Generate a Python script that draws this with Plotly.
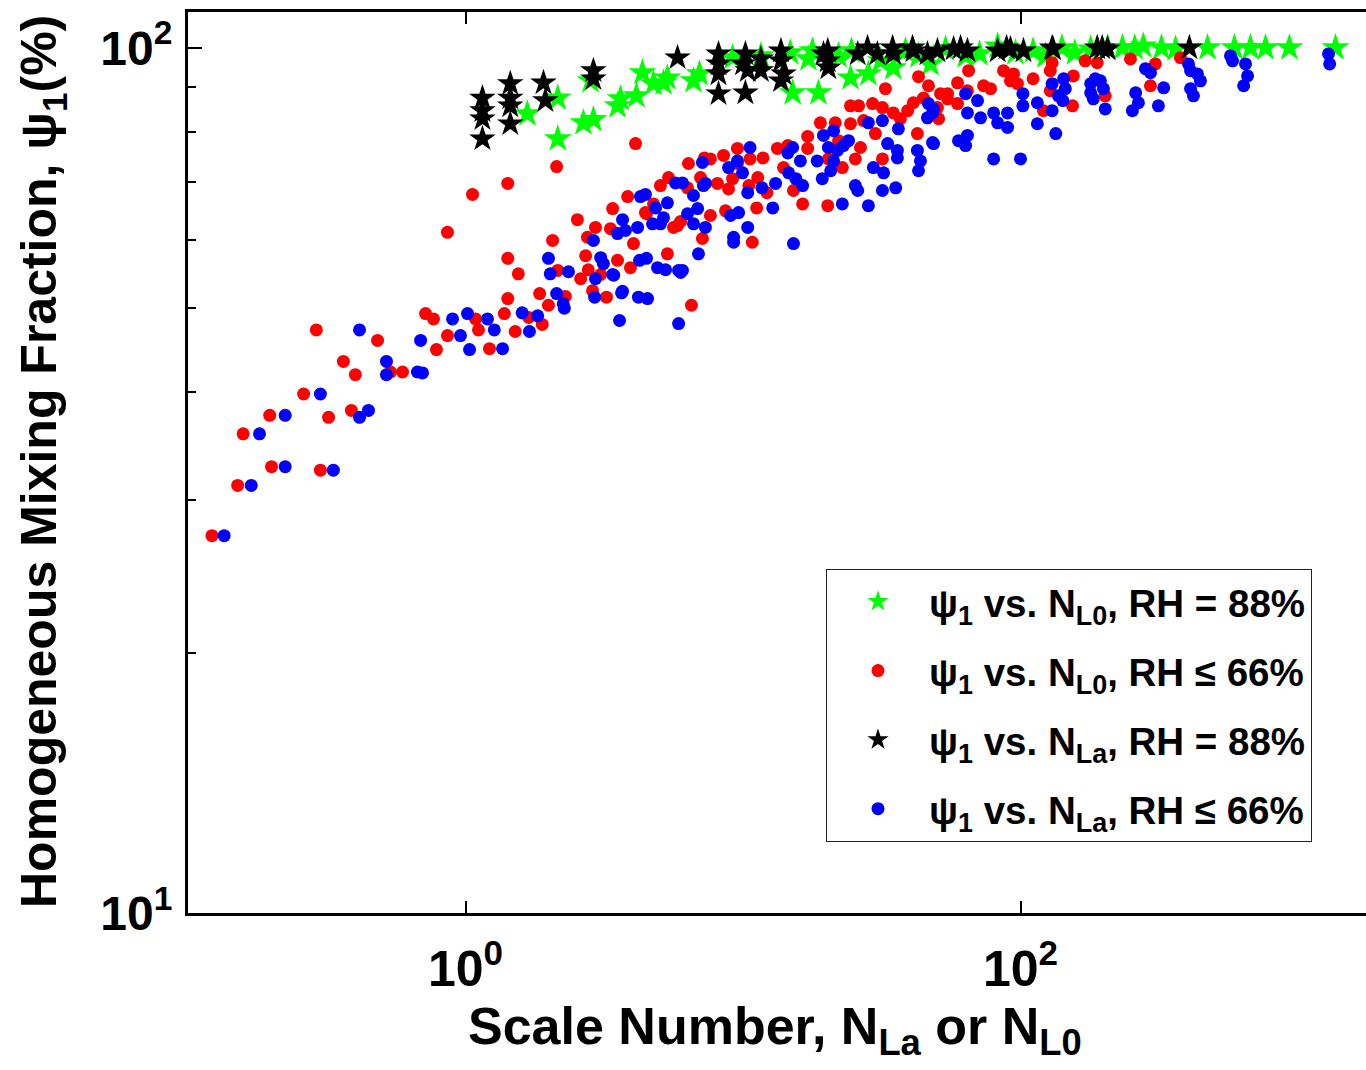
import plotly.graph_objects as go

# ---------------- data ----------------
green_x = [1.67, 2.15, 2.15, 2.66, 2.89, 2.82, 3.53, 3.62, 4.13, 4.34,
           4.76, 5.17, 5.34, 6.63, 6.97, 9.17, 11.6, 15.1, 17.2, 18.7,
           24.4, 28.3, 34.8, 47.4,
           14.8, 17.8, 22.1, 24.6, 31.3, 38.5, 42.9, 53.7, 63.4, 71.2,
           82.7, 95.9, 111, 123, 141, 157, 179, 206, 233, 258,
           277, 322, 362, 472, 590, 674, 764, 931, 1365]
green_y = [83.9, 78.5, 87.5, 81.9, 82.6, 91.6, 85.7, 87.3, 88.0, 93.6,
           90.9, 91.1, 92.3, 91.6, 93.3, 97.4, 97.9, 88.7, 97.1, 88.7,
           92.3, 93.3, 94.8, 95.8,
           98.7, 99.2, 97.9, 99.2, 96.6, 99.2, 97.9, 99.7, 97.9, 98.4,
           100.5, 98.7, 99.2, 97.9, 100, 98.7, 99.7, 100, 100, 100,
           100.5, 100, 99.7, 100, 100, 100, 100, 100, 100]

red_x = [0.122, 0.151, 0.158, 0.197, 0.200, 0.261, 0.290, 0.300, 0.321, 0.363,
         0.388, 0.401, 0.482, 0.537, 0.593, 0.718, 0.767, 0.786, 0.861, 0.861,
         1.06, 1.087, 1.114, 1.22, 1.38, 1.42, 1.42, 1.42, 1.51, 1.55,
         1.69, 1.85, 1.89, 1.99, 2.06, 2.15, 2.29, 2.53, 2.60, 2.71,
         2.75, 2.77, 2.87, 2.94, 3.22, 3.33, 3.39, 3.53, 3.84, 3.93,
         4.03, 4.45, 4.76, 5.04, 5.34, 5.62,
         4.10, 2.13, 3.07, 5.81, 5.39, 6.36, 7.26, 6.52, 7.14, 5.96, 4.49,
         7.63, 8.51, 9.55, 10.6, 11.8, 13.3, 14.5, 17.1, 19.0, 21.5,
         24.4, 26.1, 29.3, 31.8, 32.6, 42.9, 46.6, 44.7, 41.1, 39.2,
         34.8, 36.9, 50.7, 54.6, 59.3, 65.0, 64.4, 50.2, 24.4, 27.2,
         30.0, 42.5, 31.8, 26.5, 22.1, 20.3, 22.8, 25.4, 20.2, 16.4,
         15.2, 17.1, 14.0, 12.2, 11.3, 11.2, 10.5, 9.17, 8.87, 8.09,
         7.03, 6.31, 7.63, 10.8, 8.65, 9.55,
         51.5, 54.6, 59.3, 73.6, 78.0, 86.9, 94.4, 92.0, 97.5, 111,
         130, 128, 128, 155, 171, 189, 202, 154, 121, 306,
         294, 249, 377]
red_y = [27.3, 31.2, 35.8, 37.6, 32.8, 39.8, 47.2, 32.5, 37.4, 43.4,
         38.1, 41.9, 45.9, 42.2, 42.2, 49.3, 48.6, 44.8, 61.2, 46.5,
         67.7, 48.6, 47.2, 44.9, 49.3, 57.1, 51.3, 69.7, 47.0, 54.8,
         48.8, 52.0, 47.9, 50.4, 59.9, 55.3, 51.6, 63.3, 54.1, 57.5,
         60.4, 55.4, 52.4, 62.0, 51.5, 61.8, 65.2, 56.8, 67.3, 55.7,
         59.4, 64.5, 66.0, 69.3, 57.8, 62.0,
         77.5, 72.9, 54.7, 62.3, 70.8, 73.5, 74.6, 50.4, 60.2, 63.0, 64.3,
         74.4, 75.1, 76.5, 74.4, 74.6, 76.5, 77.1, 79.0, 81.9, 81.9,
         85.7, 85.7, 86.2, 85.3, 89.7, 92.6, 90.4, 87.5, 86.4, 84.6,
         84.1, 82.8, 82.8, 88.5, 91.1, 94.1, 89.2, 85.3, 81.7, 82.4,
         79.6, 79.6, 74.4, 76.7, 78.1, 74.4, 72.7, 74.4, 65.7, 66.0,
         68.4, 76.5, 72.7, 68.0, 70.8, 65.3, 69.3, 70.6, 68.7, 69.7,
         70.8, 68.9, 64.0, 59.6, 64.8, 73.5,
         88.5, 87.3, 86.2, 90.4, 89.7, 94.1, 93.3, 91.6, 90.9, 92.1,
         96.1, 94.1, 89.2, 92.8, 96.6, 96.1, 88.0, 85.7, 84.6, 95.8,
         90.4, 97.1, 97.4]

black_x = [1.151, 1.151, 1.151, 1.151, 1.45, 1.45, 1.45, 1.45, 1.91, 1.94,
           2.89, 2.89, 5.81, 8.16, 8.16, 8.16, 8.16, 10.2, 10.2, 10.0,
           10.4, 11.6, 11.6, 13.7, 13.7, 14.0, 13.7, 20.2, 20.2, 20.3,
           19.5, 25.9, 28.1, 30.5, 34.6, 34.8, 40.8, 41.1, 46.2, 50.2,
           57.4, 60.8, 64.4, 82.7, 89.1, 92.0, 102.5, 130, 131, 189,
           197, 206, 406]
black_y = [87.5, 84.6, 82.8, 78.5, 90.9, 87.5, 85.7, 81.7, 91.1, 86.9,
           94.1, 92.1, 97.4, 98.4, 95.8, 93.3, 88.5, 88.7, 98.4, 95.8,
           94.1, 97.1, 94.1, 99.2, 96.6, 93.3, 91.6, 99.2, 96.6, 94.8,
           98.4, 98.4, 100, 98.4, 100, 98.4, 100, 99.2, 98.4, 99.2,
           99.7, 100, 99.2, 99.2, 100, 99.7, 99.2, 100, 99.7, 100,
           100, 99.7, 100]

blue_x = [0.135, 0.169, 0.181, 0.224, 0.224, 0.300, 0.334, 0.415, 0.415, 0.447,
          0.519, 0.519, 0.671, 0.700, 0.689, 0.898, 0.959, 1.017, 1.034, 1.20,
          1.27, 1.36, 1.60, 1.70, 1.82, 1.99, 2.02, 2.13, 2.25, 2.27,
          2.35, 2.89, 2.94, 2.92, 3.07, 3.14, 3.42, 3.59, 3.65, 3.53,
          3.68, 3.77, 4.17, 4.24, 4.27, 4.45, 4.49, 4.20, 4.53, 4.72,
          4.84, 4.92, 5.04, 5.26, 5.34, 5.86, 5.86, 5.71,
          6.05, 7.14, 7.20, 6.63, 6.31, 6.86, 6.63, 7.32, 6.91, 5.17,
          5.96, 3.39, 3.68,
          10.6, 9.55, 8.87, 9.96, 7.32, 10.4, 11.7, 13.1, 12.8, 9.02,
          9.64, 10.4, 9.25, 9.25, 6.05, 15.2, 14.6, 14.5, 15.1, 16.1,
          15.5, 16.4, 18.5, 19.5, 21.2, 20.3, 21.9, 23.0, 24.0, 21.2,
          20.7, 19.3, 25.4, 25.9, 22.8, 28.3, 28.3, 31.8, 33.2, 36.0,
          36.0, 29.5, 32.1, 31.8, 35.5, 36.3, 46.6, 46.2, 48.2, 48.2,
          42.5, 43.6, 42.9, 59.8, 64.4, 63.4, 63.4, 70.0, 64.4,
          48.6, 48.6, 71.8, 80.0, 89.8, 82.7, 89.8, 80.0, 100, 102,
          102, 115, 115, 134, 130, 130, 137, 143, 145, 142,
          179, 186, 194, 199, 179, 183, 202, 253, 260, 266,
          314, 328, 282, 294, 403, 410, 434, 445, 410, 420,
          571, 581, 647, 658, 637, 1288, 1300]
blue_y = [27.3, 31.2, 35.8, 37.6, 32.8, 39.8, 32.5, 47.2, 37.4, 38.1,
          43.4, 41.9, 42.2, 42.1, 45.9, 48.6, 46.5, 49.3, 44.8, 48.6,
          47.2, 44.9, 49.4, 47.0, 49.0, 57.1, 54.8, 52.0, 50.6, 50.0,
          55.1, 59.9, 54.1, 51.5, 57.2, 56.3, 54.6, 48.4, 52.1, 61.0,
          63.3, 61.5, 62.0, 56.8, 67.3, 67.7, 57.1, 51.5, 51.3, 62.6,
          65.3, 55.7, 62.6, 55.4, 66.2, 55.3, 48.0, 69.8,
          69.8, 73.7, 69.3, 67.5, 64.3, 65.2, 62.6, 62.0, 57.8, 63.6,
          55.0, 54.7, 52.3,
          76.7, 74.0, 72.7, 71.7, 69.7, 68.0, 68.9, 69.7, 65.3, 64.0,
          64.5, 62.0, 60.4, 59.6, 55.3, 59.4, 71.7, 75.6, 76.7, 74.0,
          70.6, 69.3, 74.0, 79.2, 80.2, 76.7, 76.1, 77.1, 78.1, 74.0,
          72.1, 70.6, 69.3, 68.4, 66.0, 65.7, 81.9, 82.4, 77.5, 76.1,
          74.6, 72.7, 71.7, 68.4, 68.9, 80.6, 86.2, 83.0, 84.1, 77.7,
          76.1, 74.0, 72.1, 78.1, 79.2, 77.1, 88.5, 86.9, 84.1,
          85.0, 77.5, 83.0, 84.1, 84.1, 81.9, 80.9, 74.4, 74.4, 88.5,
          85.7, 86.4, 81.7, 79.6, 90.9, 84.6, 88.0, 92.1, 89.7, 86.9,
          90.9, 92.1, 91.6, 89.7, 88.7, 87.3, 85.0, 84.6, 88.7, 86.4,
          85.7, 89.9, 94.6, 93.6, 95.8, 94.1, 93.3, 91.6, 89.7, 88.0,
          97.9, 96.6, 95.8, 92.8, 90.4, 98.4, 95.8]

legend_names = [
    "\u03c8<sub>1</sub> vs. N<sub>L0</sub>, RH = 88%",
    "\u03c8<sub>1</sub> vs. N<sub>L0</sub>, RH \u2264 66%",
    "\u03c8<sub>1</sub> vs. N<sub>La</sub>, RH = 88%",
    "\u03c8<sub>1</sub> vs. N<sub>La</sub>, RH \u2264 66%",
]
x_tick_vals = [1, 100]
x_tick_text = ["10<sup>0</sup>", "10<sup>2</sup>"]
y_tick_vals = [10, 100]
y_tick_text = ["10<sup>1</sup>", "10<sup>2</sup>"]
y_minor_vals = [20, 30, 40, 50, 60, 70, 80, 90]

# ---------------- layout geometry ----------------
W, H = 1366, 1070
ML, MR, MT, MB = 188, 0, 12, 157
PW, PH = W - ML - MR, H - MT - MB
FONT = "Liberation Sans, Arial, Helvetica, sans-serif"


def px_to_paper_x(px):
    return (px - ML) / PW


def px_to_paper_y(py):
    return (H - MB - py) / PH


fig = go.Figure()
series = [
    (green_x, green_y, "#00ff00", "star", 21),
    (red_x, red_y, "#ff0000", "circle", 13),
    (black_x, black_y, "#000000", "star", 20),
    (blue_x, blue_y, "#0000ff", "circle", 13),
]
for i, (xs, ys, col, sym, sz) in enumerate(series):
    fig.add_trace(go.Scatter(
        x=xs, y=ys, mode="markers", name=legend_names[i],
        legendgroup=f"g{i}",
        marker=dict(color=col, symbol=sym, size=sz, line=dict(width=0)),
    ))

fig.update_layout(
    width=W, height=H, autosize=False,
    margin=dict(l=ML, r=MR, t=MT, b=MB, pad=0),
    paper_bgcolor="white", plot_bgcolor="white",
    font=dict(family=FONT, color="black"),
    showlegend=True,
    legend=dict(
        x=px_to_paper_x(826), y=px_to_paper_y(569),
        xanchor="left", yanchor="top",
        bgcolor="white", bordercolor="#222222", borderwidth=1,
        font=dict(family=FONT, size=38.5, weight="bold", color="black"),
        tracegroupgap=16, itemwidth=92,
    ),
    xaxis=dict(
        type="log", range=[-1, 3.245],
        showline=True, linecolor="black", linewidth=3, mirror="ticks",
        ticks="inside", ticklen=12, tickwidth=2, tickcolor="black",
        tickmode="array", tickvals=x_tick_vals, ticktext=x_tick_text,
        tickfont=dict(family=FONT, size=50, weight="bold"),
        ticklabelstandoff=10,
        showgrid=False, zeroline=False,
    ),
    yaxis=dict(
        type="log", range=[1, 2.0414],
        showline=True, linecolor="black", linewidth=3, mirror=False,
        ticks="inside", ticklen=14, tickwidth=2, tickcolor="black",
        tickmode="array", tickvals=y_tick_vals, ticktext=y_tick_text,
        tickfont=dict(family=FONT, size=48, weight="bold"),
        ticklabelstandoff=3,
        minor=dict(ticks="inside", ticklen=8, tickwidth=2, tickcolor="black",
                   tickmode="array", tickvals=y_minor_vals, showgrid=False),
        showgrid=False, zeroline=False,
    ),
    annotations=[
        dict(text="Scale Number, N<sub>La</sub> or N<sub>L0</sub>",
             xref="paper", yref="paper",
             x=px_to_paper_x(775), y=px_to_paper_y(1030),
             xanchor="center", yanchor="middle", showarrow=False,
             font=dict(family=FONT, size=52, weight="bold")),
        dict(text="Homogeneous Mixing Fraction, \u03c8<sub>1</sub>(%)",
             xref="paper", yref="paper",
             x=px_to_paper_x(42), y=px_to_paper_y(462),
             xanchor="center", yanchor="middle", showarrow=False,
             textangle=-90,
             font=dict(family=FONT, size=50, weight="bold")),
    ],
)

fig.write_html("out.html", config={"displayModeBar": False},
               post_script="document.body.style.margin='0';")
